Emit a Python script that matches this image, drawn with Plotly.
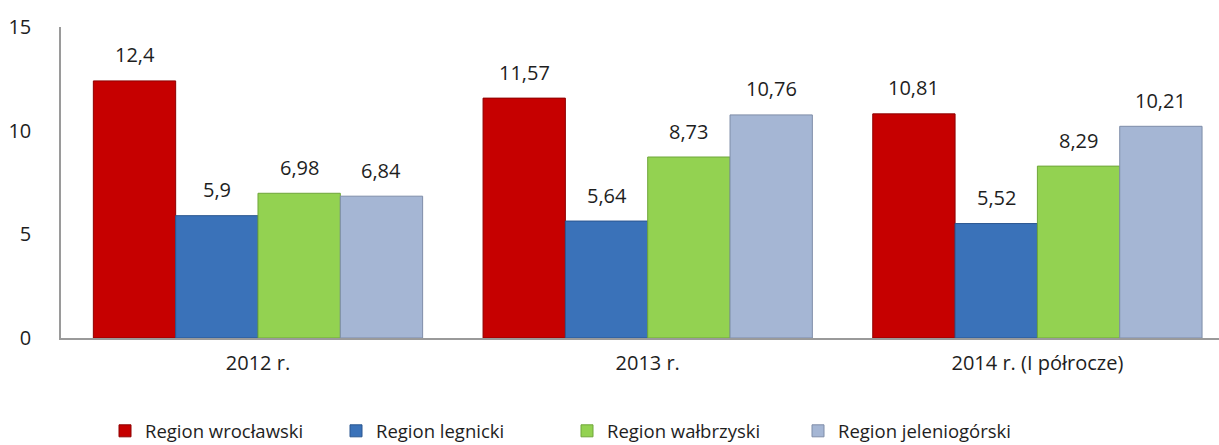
import plotly.graph_objects as go

categories = ["2012 r.", "2013 r.", "2014 r. (I półrocze)"]
series_names = ["Region wrocławski", "Region legnicki", "Region wałbrzyski", "Region jeleniogórski"]
wroclawski = [12.4, 11.57, 10.81]
legnicki = [5.9, 5.64, 5.52]
walbrzyski = [6.98, 8.73, 8.29]
jeleniogorski = [6.84, 10.76, 10.21]
y_ticks = [0, 5, 10, 15]

series_values = [wroclawski, legnicki, walbrzyski, jeleniogorski]
fill_colors = ["#C60000", "#3A72B9", "#93D251", "#A5B6D4"]
edge_colors = ["#8E0000", "#2A5690", "#6FA63A", "#7F8DA8"]

BARGAP = 0.155
FONT = "Open Sans"
TEXT = "#1e1e1e"

def fmt(v):
    s = f"{v:.2f}".rstrip("0").rstrip(".")
    return s.replace(".", ",")

fig = go.Figure()
for name, vals, fc, ec in zip(series_names, series_values, fill_colors, edge_colors):
    fig.add_trace(go.Bar(
        name=name, x=categories, y=vals,
        marker=dict(color=fc, line=dict(color=ec, width=1)),
        hoverinfo="y+name",
    ))

# value labels above bars
n = len(series_values)
w = (1 - BARGAP) / n
for j, vals in enumerate(series_values):
    for i, v in enumerate(vals):
        fig.add_annotation(
            x=i + (j - (n - 1) / 2) * w, y=v, xref="x", yref="y",
            text=fmt(v), showarrow=False, yanchor="middle", yshift=26,
            font=dict(family=FONT, size=20, color=TEXT),
        )

fig.update_layout(
    width=1219, height=445,
    margin=dict(l=61, r=0, t=27, b=107, autoexpand=False),
    paper_bgcolor="white", plot_bgcolor="white",
    barmode="group", bargap=BARGAP, bargroupgap=0.0,
    font=dict(family=FONT, size=20, color=TEXT),
    showlegend=True,
    legend=dict(
        orientation="h", x=0.038, xanchor="left", y=-0.30, yanchor="middle",
        font=dict(family=FONT, size=18.5, color=TEXT),
        entrywidth=186, entrywidthmode="pixels", traceorder="normal",
    ),
    xaxis=dict(
        type="category", range=[-0.5055, 2.466], automargin=False,
        showline=True, linecolor="#9A9A9A", linewidth=1.5,
        showgrid=False, zeroline=False, ticks="", ticklabelstandoff=6,
        tickfont=dict(family=FONT, size=20, color=TEXT),
    ),
    yaxis=dict(
        range=[0, 15], tickvals=y_ticks, ticktext=[str(t) for t in y_ticks],
        automargin=False,
        showline=True, linecolor="#9A9A9A", linewidth=1.5,
        showgrid=False, zeroline=False, ticks="", ticklabelstandoff=24,
        tickfont=dict(family=FONT, size=20, color=TEXT),
    ),
)

fig.write_html(
    "out.html",
    config={"displayModeBar": False},
    post_script="document.body.style.margin='0';document.body.style.overflow='hidden';",
)
